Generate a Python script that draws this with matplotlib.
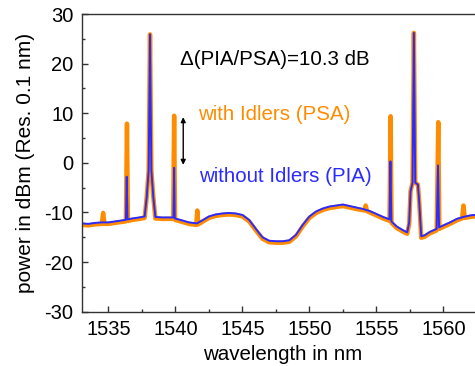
import numpy as np
import matplotlib.pyplot as plt
import matplotlib as mpl

mpl.rcParams['font.family'] = ['Liberation Sans', 'DejaVu Sans']
mpl.rcParams['axes.unicode_minus'] = False

# without idlers (PIA) - blue trace
wl_pia = [1533.0, 1533.5, 1534.0, 1534.5, 1535.0, 1535.5, 1536.0, 1536.3, 1536.36, 1536.42,
          1536.8, 1537.3, 1537.7, 1537.85, 1538.0, 1538.1, 1538.2, 1538.35, 1538.5, 1539.0,
          1539.5, 1539.85, 1539.9, 1539.95, 1540.5, 1541.0, 1541.6, 1542.0, 1542.5, 1543.0,
          1543.5, 1544.0, 1544.5, 1545.0, 1545.5, 1546.0, 1546.5, 1547.0, 1547.5, 1548.0,
          1548.5, 1549.0, 1549.5, 1550.0, 1550.5, 1551.0, 1551.5, 1552.0, 1552.5, 1553.0,
          1553.5, 1554.0, 1554.5, 1555.0, 1555.5, 1555.98, 1556.05, 1556.12, 1556.5, 1557.0,
          1557.3, 1557.45, 1557.55, 1557.7, 1557.8, 1557.9, 1558.1, 1558.2, 1558.35, 1558.6,
          1559.0, 1559.5, 1559.6, 1559.68, 1560.0, 1560.5, 1561.0, 1561.5, 1562.0, 1563.0]
p_pia = [-12.2, -12.3, -12.1, -12.0, -12.0, -11.8, -11.6, -11.5, -2.8, -11.4,
         -11.2, -11.0, -10.8, -7.0, -1.5, 25.9, -1.5, -7.0, -10.9, -11.0,
         -11.0, -11.0, -1.0, -11.2, -11.6, -12.0, -12.2, -11.6, -10.8, -10.4,
         -10.2, -10.1, -10.2, -10.5, -11.5, -13.3, -15.0, -15.7, -15.8, -15.8,
         -15.6, -14.5, -12.5, -10.8, -9.8, -9.2, -8.8, -8.6, -8.4, -8.7,
         -9.0, -9.3, -9.7, -10.3, -10.9, -11.4, 0.3, -11.8, -12.8, -13.6,
         -14.0, -12.0, -5.7, -4.0, 26.2, -4.0, -4.4, -8.0, -14.8, -14.6,
         -13.9, -13.3, -0.5, -13.0, -12.6, -12.0, -11.3, -10.9, -10.6, -10.3]

# with idlers (PSA) - orange trace
wl_psa = [1533.0, 1533.5, 1534.0, 1534.5, 1534.6, 1534.7, 1535.0, 1535.5, 1536.0, 1536.3,
          1536.38, 1536.45, 1536.8, 1537.3, 1537.7, 1537.85, 1538.0, 1538.1, 1538.2, 1538.35,
          1538.5, 1539.0, 1539.5, 1539.83, 1539.9, 1539.97, 1540.5, 1541.0, 1541.55, 1541.63,
          1541.7, 1542.0, 1542.5, 1543.0, 1543.5, 1544.0, 1544.5, 1545.0, 1545.5, 1546.0,
          1546.5, 1547.0, 1547.5, 1548.0, 1548.5, 1549.0, 1549.5, 1550.0, 1550.5, 1551.0,
          1551.5, 1552.0, 1552.5, 1553.0, 1553.5, 1554.1, 1554.2, 1554.3, 1554.5, 1555.0,
          1555.5, 1555.98, 1556.06, 1556.13, 1556.5, 1557.0, 1557.3, 1557.45, 1557.55, 1557.7,
          1557.8, 1557.9, 1558.1, 1558.2, 1558.35, 1558.6, 1559.0, 1559.5, 1559.62, 1559.7,
          1560.0, 1560.5, 1561.0, 1561.4, 1561.5, 1561.6, 1562.0, 1563.0]
p_psa = [-12.5, -12.6, -12.4, -12.3, -10.1, -12.3, -12.3, -12.1, -11.9, -11.8,
         7.9, -11.7, -11.5, -11.3, -11.1, -7.0, -1.5, 25.9, -1.5, -7.0,
         -11.2, -11.3, -11.3, -11.3, 9.5, -11.5, -11.9, -12.3, -12.5, -9.6,
         -12.4, -11.9, -11.1, -10.7, -10.5, -10.4, -10.5, -10.8, -11.8, -13.6,
         -15.3, -16.0, -16.1, -16.1, -15.9, -14.8, -12.8, -11.1, -10.1, -9.5,
         -9.1, -8.9, -8.7, -9.0, -9.3, -9.6, -8.6, -9.7, -10.0, -10.6,
         -11.2, -11.7, 9.4, -12.1, -13.1, -13.9, -14.3, -12.3, -5.7, -4.0,
         26.2, -4.0, -4.4, -8.0, -15.1, -14.9, -14.2, -13.6, 8.2, -13.3,
         -12.9, -12.3, -11.6, -11.2, -8.6, -11.1, -10.9, -10.6]

orange = '#ff8c00'
blue = '#2b2bff'

fig = plt.figure(figsize=(4.75, 3.66), dpi=100)
ax = fig.add_axes([0.172, 0.1484, 0.846, 0.8133])

ax.plot(wl_psa, p_psa, color=orange, lw=3.2, solid_joinstyle='round')
ax.plot(wl_pia, p_pia, color=blue, lw=1.4)

ax.annotate('', xy=(1540.58, 9.2), xytext=(1540.58, -0.4),
            arrowprops=dict(arrowstyle='<|-|>', color='black', lw=1.0,
                            mutation_scale=7, shrinkA=0, shrinkB=0))

ax.text(1540.35, 20.8, '\u0394(PIA/PSA)=10.3 dB', fontsize=14.8, color='black',
        va='center', ha='left')
ax.text(1541.7, 9.8, 'with Idlers (PSA)', fontsize=14.8, color=orange,
        va='center', ha='left')
ax.text(1541.75, -2.7, 'without Idlers (PIA)', fontsize=14.8, color=blue,
        va='center', ha='left')

ax.set_xlim(1533, 1563)
ax.set_ylim(-30, 30)
ax.set_xticks([1535, 1540, 1545, 1550, 1555, 1560])
ax.set_xticks(np.arange(1537.5, 1563, 5), minor=True)
ax.set_yticks([-30, -20, -10, 0, 10, 20, 30])
ax.set_yticks(np.arange(-25, 30, 10), minor=True)
ax.tick_params(which='both', direction='in', labelsize=14.5, color='#333333',
               width=1.0)
ax.tick_params(which='major', length=4.5, pad=6)
ax.tick_params(which='minor', length=2.5)
for s in ax.spines.values():
    s.set_color('#333333')
    s.set_linewidth(1.0)

ax.set_xlabel('wavelength in nm', fontsize=14.8, labelpad=4)
ax.set_ylabel('power in dBm (Res. 0.1 nm)', fontsize=15, labelpad=7)

fig.savefig('out.png', dpi=100)
